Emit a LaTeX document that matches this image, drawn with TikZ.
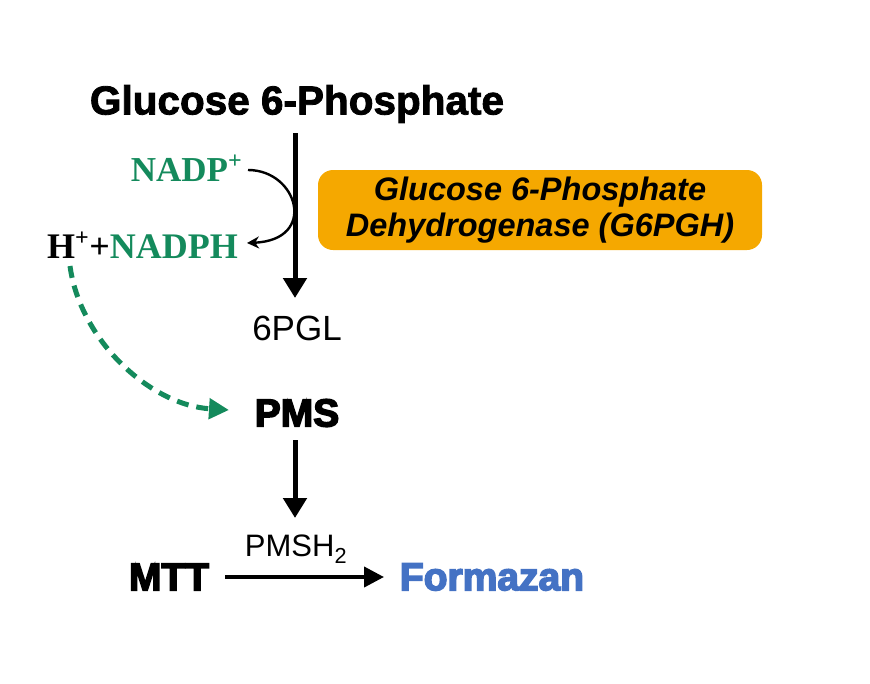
\documentclass[tikz,border=0pt]{standalone}
\usepackage{fontspec}
\setmainfont{Liberation Sans}
\newfontfamily\serifb{Liberation Serif Bold}
\newfontfamily\heavyfont{Liberation Sans Bold}[FakeBold=4]
\newfontfamily\titlefont{Liberation Sans Bold}[FakeBold=2]
\newfontfamily\boxfont{Liberation Sans Bold Italic}
\usetikzlibrary{arrows.meta}
\definecolor{nadgreen}{HTML}{148A5C}
\definecolor{formblue}{HTML}{4472C4}
\definecolor{enzorange}{HTML}{F5A800}
\newcommand{\supplus}{\raisebox{13pt}{\fontsize{24}{26}\selectfont+}}
\tikzset{
  lbl/.style={inner sep=0pt, anchor=center},
  bigarrow/.style={line width=5pt, -{Triangle[width=23pt,length=20pt]}},
  heavylbl/.style={lbl, font=\heavyfont\fontsize{39}{44}\selectfont},
}
\begin{document}
\begin{tikzpicture}[x=1pt,y=-1pt]
\useasboundingbox (0,0) rectangle (870,683);
% nodes
\node[lbl] (g6p) at (297,104) {\titlefont\fontsize{40.5}{44}\selectfont Glucose 6-Phosphate};
\node[lbl,anchor=east] (nadp) at (242,168) {\serifb\fontsize{35}{40}\selectfont\color{nadgreen}NADP\supplus};
\node[lbl,anchor=east] (nadph) at (238,245) {\serifb\fontsize{36}{40}\selectfont H\supplus\kern0.5pt+\textcolor{nadgreen}{NADPH}};
\node[lbl] (pgl) at (297,328) {\fontsize{35}{40}\selectfont 6PGL};
\node[heavylbl] (pms) at (297,413) {PMS};
\node[heavylbl] (mtt) at (169,577) {MTT};
\node[heavylbl, text=formblue] (form) at (492,577) {Formazan};
\node[lbl] (pmsh) at (296,549) {\fontsize{31}{34}\selectfont PMSH\textsubscript{2}};
\node[fill=enzorange, rounded corners=15pt, minimum width=444pt, minimum height=80pt, inner sep=0pt, align=center,
      font=\boxfont\fontsize{32.5}{34}\selectfont] (enz) at (540,210)
  {Glucose 6-Phosphate\\[1.5pt] Dehydrogenase (G6PGH)};
% coordinates
\coordinate (a1s) at (295,133);
\coordinate (a1e) at (295,298);
\coordinate (a2s) at (295,440);
\coordinate (a2e) at (295,518);
\coordinate (a3s) at (225,577);
\coordinate (a3e) at (384,577);
\coordinate (cs) at (248,170);
\coordinate (ce) at (247,243);
\coordinate (ds) at (70,266);
\coordinate (de) at (229,410);
% connectors
\draw[bigarrow] (a1s) -- (a1e);
\draw[bigarrow] (a2s) -- (a2e);
\draw[line width=4pt, -{Triangle[width=20pt,length=20pt]}] (a3s) -- (a3e);
\draw[line width=2.4pt, -{Stealth[width=12pt,length=12pt]}] (cs) .. controls (298,170) and (318,240) .. (ce);
\draw[nadgreen, line width=5pt, dash pattern=on 12pt off 8pt, -{Triangle[width=20pt,length=20pt]}] (ds) .. controls (80,340) and (150,405) .. (de);
\end{tikzpicture}
\end{document}
